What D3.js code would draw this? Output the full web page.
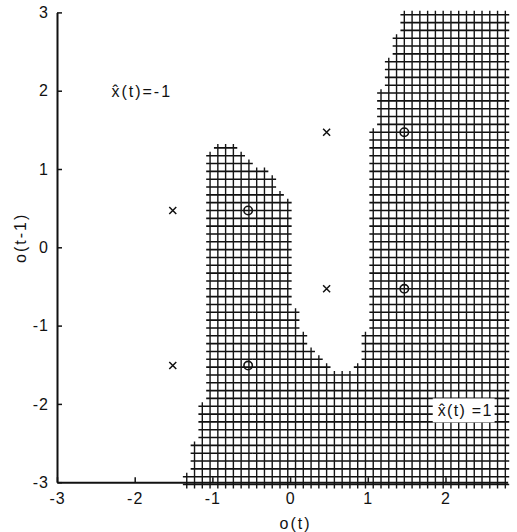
<!DOCTYPE html>
<html>
<head>
<meta charset="utf-8">
<script src="https://cdn.jsdelivr.net/npm/d3@7"></script>
<style>
  html, body { margin: 0; padding: 0; background: #fff; }
  svg { display: block; }
  text { font-family: "Liberation Sans Narrow", "Arial Narrow", "Liberation Sans", Arial, sans-serif; fill: #111; }
</style>
</head>
<body>
<svg id="chart" width="517" height="532"></svg>
<script>
// Axis extents and ticks
const xDomain = [-3, 2.8];
const yDomain = [-3, 3];
const xTicks = [-3, -2, -1, 0, 1, 2];
const yTicks = [-3, -2, -1, 0, 1, 2, 3];

// Training points: x marks (class -1) and circles (class 1)
const crossX = [-1.51, -1.51, 0.47, 0.47];
const crossY = [0.47, -1.51, 1.47, -0.53];
const circleX = [-0.54, -0.54, 1.47, 1.47];
const circleY = [0.47, -1.51, 1.47, -0.53];

// Evaluation lattice: step, one lattice centre, and the range of centres
const cellStep = 0.1;
const cellAnchor = [0.47, 1.47];
const cellXRange = [-3.0, 2.8];
const cellYRange = [-3.05, 3.0];

// Outline of the region classified as x^(t) = 1
const regionBoundary = [
  [-1.42, -3.10], [-1.34, -2.88], [-1.27, -2.62], [-1.20, -2.35],
  [-1.14, -2.05], [-1.10, -1.75], [-1.08, -1.40], [-1.08, 1.12],
  [-0.98, 1.22], [-0.98, 1.32], [-0.68, 1.32], [-0.68, 1.22],
  [-0.48, 1.12], [-0.38, 1.02], [-0.18, 0.92], [-0.18, 0.82],
  [-0.08, 0.72], [0.02, 0.62], [0.02, -0.25], [0.05, -0.65],
  [0.10, -0.92], [0.18, -1.12], [0.30, -1.32], [0.45, -1.48],
  [0.60, -1.58], [0.78, -1.58], [0.90, -1.42], [0.96, -1.15],
  [1.02, -0.85], [1.02, 1.52], [1.12, 1.52], [1.12, 2.02],
  [1.22, 2.02], [1.22, 2.42], [1.32, 2.42], [1.32, 2.72],
  [1.42, 2.72], [1.42, 3.10], [2.90, 3.10], [2.90, -3.10]
];

// Region labels (data coordinates of the text start / baseline)
const labelText = ["x\u0302(t)=-1", "x\u0302(t) =1"];
const labelX = [-2.3, 1.9];
const labelY = [1.92, -2.16];

const svg = d3.select("#chart");

const x = d3.scaleLinear().domain(xDomain).range([57, 57 + 5.8 * 77.7]);
const y = d3.scaleLinear().domain(yDomain).range([482.2, 12.4]);

// Lattice centres falling inside the region
function latticeValues(anchor, range) {
  const out = [];
  const iMin = Math.ceil((range[0] - anchor) / cellStep - 1e-9);
  const iMax = Math.floor((range[1] - anchor) / cellStep + 1e-9);
  for (let i = iMin; i <= iMax; i++) out.push(+(anchor + i * cellStep).toFixed(4));
  return out;
}
const colValues = latticeValues(cellAnchor[0], cellXRange);
const rowValues = latticeValues(cellAnchor[1], cellYRange);
const cells = [];
rowValues.forEach(cy => colValues.forEach(cx => {
  if (d3.polygonContains(regionBoundary, [cx, cy])) cells.push([cx, cy]);
}));

// Each cell is drawn as a "+" spanning the cell; neighbours join into a mesh
const h = cellStep / 2;
const hPath = d3.path(), vPath = d3.path();
cells.forEach(([cx, cy]) => {
  hPath.moveTo(x(cx - h), y(cy)); hPath.lineTo(x(cx + h), y(cy));
  vPath.moveTo(x(cx), y(cy - h)); vPath.lineTo(x(cx), y(cy + h));
});
const mesh = svg.append("g").attr("class", "mesh");
mesh.append("path").attr("d", hPath.toString())
  .attr("fill", "none").attr("stroke", "#111").attr("stroke-width", 1.6);
mesh.append("path").attr("d", vPath.toString())
  .attr("fill", "none").attr("stroke", "#151515").attr("stroke-width", 1.4);

// Axes
const xAxis = d3.axisBottom(x).tickValues(xTicks).tickSize(-5).tickSizeOuter(0).tickPadding(10)
  .tickFormat(d => d < 0 ? "-" + Math.abs(d) : d);
const yAxis = d3.axisLeft(y).tickValues(yTicks).tickSize(-5).tickSizeOuter(0).tickPadding(8)
  .tickFormat(d => d < 0 ? "-" + Math.abs(d) : d);

const gx = svg.append("g").attr("transform", `translate(0,${y(-3)})`).call(xAxis);
const gy = svg.append("g").attr("transform", `translate(${x(-3)},0)`).call(yAxis);
[gx, gy].forEach(g => {
  g.select(".domain").attr("stroke", "#111").attr("stroke-width", 2);
  g.selectAll(".tick line").attr("stroke", "#111").attr("stroke-width", 1.5);
  g.selectAll(".tick text").attr("font-size", 16).attr("fill", "#111")
    .attr("font-family", null).style("letter-spacing", "1px");
});

// Axis titles
svg.append("text").attr("x", x(0.07)).attr("y", 529).attr("text-anchor", "middle")
  .attr("font-size", 16).style("letter-spacing", "2px").text("o(t)");
svg.append("text").attr("transform", `translate(26,${y(0.12)}) rotate(-90)`)
  .attr("text-anchor", "middle").attr("font-size", 16).style("letter-spacing", "2px").text("o(t-1)");

// Region labels, the lower one on a white patch cut out of the mesh
const labelSpacing = ["2px", "1.3px"];
labelText.forEach((t, i) => {
  const g = svg.append("g");
  const rect = g.append("rect").attr("fill", "#fff");
  const txt = g.append("text").attr("x", x(labelX[i])).attr("y", y(labelY[i]))
    .attr("font-size", 16).style("letter-spacing", labelSpacing[i]).text(t);
  if (i === 1) {
    const b = txt.node().getBBox();
    rect.attr("x", b.x - 5).attr("y", b.y - 4).attr("width", b.width + 7).attr("height", b.height + 7);
  }
});

// Training points
svg.append("g").selectAll("path").data(crossX.map((d, i) => [d, crossY[i]])).join("path")
  .attr("d", d => `M${x(d[0]) - 3.5},${y(d[1]) - 3.5}L${x(d[0]) + 3.5},${y(d[1]) + 3.5}M${x(d[0]) - 3.5},${y(d[1]) + 3.5}L${x(d[0]) + 3.5},${y(d[1]) - 3.5}`)
  .attr("stroke", "#111").attr("stroke-width", 1.5).attr("fill", "none");
svg.append("g").selectAll("circle").data(circleX.map((d, i) => [d, circleY[i]])).join("circle")
  .attr("cx", d => x(d[0])).attr("cy", d => y(d[1])).attr("r", 4.2)
  .attr("fill", "none").attr("stroke", "#111").attr("stroke-width", 1.6);
</script>
</body>
</html>
